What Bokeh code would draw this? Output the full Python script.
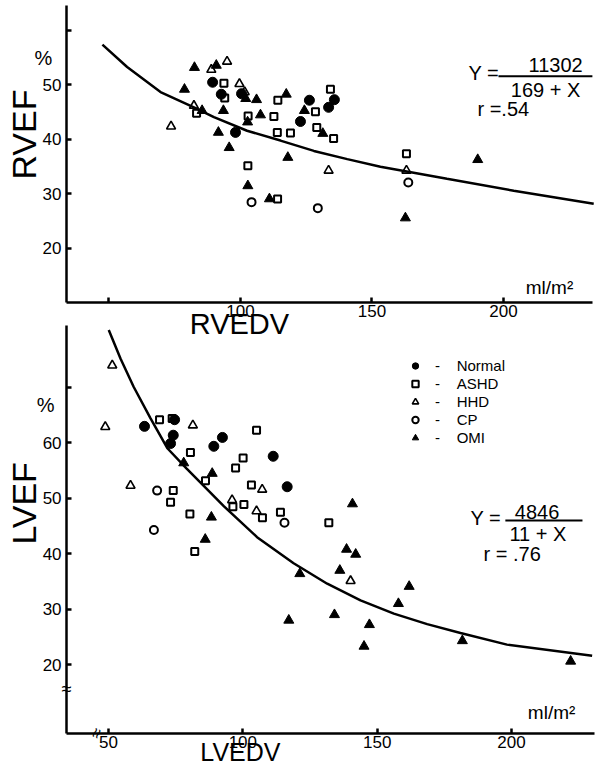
import math
from bokeh.plotting import figure
from bokeh.models import Range1d, FixedTicker, Legend, LegendItem, LinearAxis
from bokeh.core.properties import value
from bokeh.embed import file_html
from bokeh.resources import INLINE

FONT = "Liberation Sans"

# ---------------- Top panel: RVEF (%) vs RVEDV (ml/m2) ----------------
rv_normal_x = [89.4, 92.7, 100.4, 126.2, 135.7, 133.5, 122.8, 98.1]
rv_normal_y = [50.5, 48.3, 48.4, 47.2, 47.3, 45.9, 43.3, 41.3]
rv_ashd_x = [93.7, 94.0, 114.2, 134.2, 128.5, 129.0, 135.4, 112.7, 102.9, 114.0, 119.0, 102.8, 114.1, 83.3, 163.1]
rv_ashd_y = [50.3, 47.6, 47.2, 49.2, 45.1, 42.2, 40.2, 44.2, 44.3, 41.3, 41.2, 35.2, 29.1, 44.8, 37.4]
rv_hhd_x = [88.9, 94.9, 99.6, 101.6, 82.3, 73.6, 133.5, 163.1]
rv_hhd_y = [52.8, 54.3, 50.2, 48.7, 46.2, 42.4, 34.3, 34.3]
rv_cp_x = [104.2, 129.4, 163.8]
rv_cp_y = [28.5, 27.4, 32.1]
rv_omi_x = [82.5, 90.8, 78.7, 102.0, 106.1, 117.4, 124.3, 131.3, 107.6, 102.7, 93.5, 91.6, 95.7, 118.0, 102.8, 111.0, 85.4, 162.7, 190.2]
rv_omi_y = [53.2, 53.6, 49.2, 47.5, 47.3, 48.3, 45.3, 41.1, 44.5, 43.2, 45.3, 41.3, 38.5, 36.7, 31.5, 29.1, 45.3, 25.6, 36.3]
rv_fit_x = [47.5, 56.9, 69.6, 82.3, 89.9, 102.5, 115.2, 127.9, 140.6, 153.2, 178.5, 203.9, 234.3]
rv_fit_y = [57.4, 53.3, 48.7, 45.9, 44.1, 41.6, 39.8, 37.9, 36.4, 35.0, 32.8, 30.6, 28.2]
rv_xticks = [50, 100, 150, 200]
rv_yticks = [20, 30, 40, 50, 60]

# ---------------- Bottom panel: LVEF (%) vs LVEDV (ml/m2) ----------------
lv_normal_x = [63.4, 74.6, 74.1, 73.1, 92.4, 89.2, 111.3, 116.5]
lv_normal_y = [63.0, 64.2, 61.4, 59.9, 61.0, 59.4, 57.6, 52.1]
lv_ashd_x = [69.0, 73.7, 80.5, 74.1, 73.1, 80.3, 82.1, 86.1, 103.2, 96.3, 100.4, 107.3, 114.0, 105.1, 100.1, 97.3, 132.0]
lv_ashd_y = [64.2, 64.4, 58.3, 51.4, 49.3, 47.2, 40.4, 53.2, 52.4, 48.5, 48.9, 46.5, 47.5, 62.3, 57.3, 55.5, 45.6]
lv_hhd_x = [51.4, 48.8, 81.4, 58.2, 96.0, 107.2, 105.1, 140.1]
lv_hhd_y = [74.0, 62.9, 63.2, 52.3, 49.7, 51.6, 47.7, 35.1]
lv_cp_x = [68.1, 66.9, 115.5]
lv_cp_y = [51.4, 44.3, 45.6]
lv_omi_x = [78.0, 88.3, 86.0, 88.6, 140.8, 138.6, 142.0, 121.2, 136.1, 161.9, 157.9, 117.1, 134.1, 147.1, 145.1, 181.7, 222.0]
lv_omi_y = [56.4, 46.6, 42.6, 54.5, 49.0, 40.8, 39.9, 36.4, 37.0, 34.1, 31.0, 28.0, 29.0, 27.2, 23.3, 24.3, 20.6]
lv_fit_x = [50.1, 54.5, 59.4, 65.6, 72.0, 79.0, 86.0, 92.9, 105.3, 118.9, 131.4, 143.8, 156.2, 168.6, 181.0, 198.3, 230.0]
lv_fit_y = [80.4, 75.2, 70.1, 64.5, 59.0, 55.4, 52.0, 48.6, 43.0, 38.3, 34.6, 31.6, 29.2, 27.3, 25.7, 23.6, 21.6]
lv_xticks = [50, 100, 150, 200]
lv_yticks = [20, 30, 40, 50, 60, 70]

groups = ["Normal", "ASHD", "HHD", "CP", "OMI"]

# One canvas holding both panels; the top panel uses the default ranges,
# the bottom panel uses the extra ranges "lx" / "ly".
p = figure(width=596, height=770, output_backend="svg", toolbar_location=None,
           x_range=Range1d(8.75, 235.36), y_range=Range1d(-75.78, 65.50),
           x_axis_location=None, y_axis_location=None,
           min_border_left=0, min_border_right=0, min_border_top=0, min_border_bottom=0)
p.extra_x_ranges = {"lx": Range1d(9.81, 231.62)}
p.extra_y_ranges = {"ly": Range1d(0.88, 139.87)}
p.outline_line_color = None
p.grid.visible = False

TOP = dict()
BOT = dict(x_range_name="lx", y_range_name="ly")


def make_axis(kind, loc, bounds, ticks, overrides, names, standoff):
    ax = LinearAxis(fixed_location=loc, bounds=bounds, ticker=FixedTicker(ticks=ticks),
                    major_label_overrides=overrides, **names)
    ax.axis_line_width = 2.5
    ax.axis_line_color = "black"
    ax.major_tick_in = 5
    ax.major_tick_out = 0
    ax.major_tick_line_width = 2.5
    ax.minor_tick_line_color = None
    ax.major_label_text_font = FONT
    ax.major_label_text_font_size = "17px"
    ax.major_label_text_color = "black"
    ax.major_label_standoff = standoff
    p.add_layout(ax, kind)


# top panel axes
make_axis("left", 33.8, (10.1, 64.6), rv_yticks, {60: ""}, TOP, 5)
make_axis("below", 10.1, (33.8, 233.8), rv_xticks, {50: ""}, TOP, 3)
# bottom panel axes
make_axis("left", 34.4, (7.6, 81.2), lv_yticks, {70: ""}, BOT, 5)
make_axis("below", 7.6, (34.4, 230.9), lv_xticks, {}, BOT, 3)


def draw_points(data, names):
    nx, ny, ax_, ay, hx, hy, cx, cy, ox, oy = data
    rs = []
    rs.append(p.scatter(nx, ny, marker="circle", size=10, fill_color="black", line_color="black", **names))
    rs.append(p.scatter(ax_, ay, marker="square", size=7, fill_color=None, line_color="black", line_width=2, **names))
    rs.append(p.scatter(hx, hy, marker="triangle", size=9, fill_color=None, line_color="black", line_width=1.6, **names))
    rs.append(p.scatter(cx, cy, marker="circle", size=8, fill_color=None, line_color="black", line_width=2, **names))
    rs.append(p.scatter(ox, oy, marker="triangle", size=10, fill_color="black", line_color="black", **names))
    return rs


def txt(x, y, s, names, size="20px", align="left", angle=0.0):
    p.text(x=[x], y=[y], text=[s], text_font=value(FONT), text_font_size=size, angle=angle,
           text_align=align, text_baseline="middle", text_color="black", **names)


# ---- top panel content ----
p.line(rv_fit_x, rv_fit_y, line_width=2.5, line_color="black")
draw_points((rv_normal_x, rv_normal_y, rv_ashd_x, rv_ashd_y, rv_hhd_x, rv_hhd_y,
             rv_cp_x, rv_cp_y, rv_omi_x, rv_omi_y), TOP)
txt(186.7, 52.2, "Y =", TOP)
txt(219.8, 53.6, "11302", TOP, align="center")
p.segment(x0=[198.1], y0=[51.6], x1=[233.8], y1=[51.6], line_width=2, line_color="black")
txt(216.0, 49.1, "169 + X", TOP, align="center")
txt(190.1, 45.6, "r =.54", TOP)
txt(217.5, 12.8, "ml/m\u00b2", TOP, size="19px", align="center")
txt(25.1, 55.0, "%", TOP, size="20px", align="center")
txt(17.8, 40.9, "RVEF", TOP, size="34px", align="center", angle=math.pi / 2)
txt(99.6, 6.2, "RVEDV", TOP, size="29px", align="center")

# ---- bottom panel content ----
p.line(lv_fit_x, lv_fit_y, line_width=2.5, line_color="black", **BOT)
rs = draw_points((lv_normal_x, lv_normal_y, lv_ashd_x, lv_ashd_y, lv_hhd_x, lv_hhd_y,
                  lv_cp_x, lv_cp_y, lv_omi_x, lv_omi_y), BOT)
txt(184.7, 46.4, "Y =", BOT)
txt(209.5, 47.6, "4846", BOT, align="center")
p.segment(x0=[197.7], y0=[46.0], x1=[226.4], y1=[46.0], line_width=2, line_color="black", **BOT)
txt(209.8, 43.6, "11 + X", BOT, align="center")
txt(189.6, 40.0, "r = .76", BOT)
txt(214.9, 11.4, "ml/m\u00b2", BOT, size="19px", align="center")
txt(26.6, 66.8, "%", BOT, size="20px", align="center")
txt(18.6, 49.1, "LVEF", BOT, size="34px", align="center", angle=math.pi / 2)
txt(99.1, 4.3, "LVEDV", BOT, size="25px", align="center")
# axis break marks
txt(34.4, 15.6, "\u2248", BOT, size="18px", align="center")
txt(45.5, 7.6, "\u2248", BOT, size="18px", align="center", angle=1.2)

nbsp = "\u00a0"
legend = Legend(items=[LegendItem(label="-" + nbsp * 4 + g, renderers=[r]) for g, r in zip(groups, rs)],
                location=(407, 324), padding=0, margin=0, spacing=1,
                glyph_width=16, glyph_height=17, label_height=17, label_standoff=12,
                label_text_font=FONT, label_text_font_size="15px", label_text_color="black",
                border_line_color=None, background_fill_alpha=0)
p.add_layout(legend, "center")

open("out.html", "w").write(file_html(p, INLINE))
